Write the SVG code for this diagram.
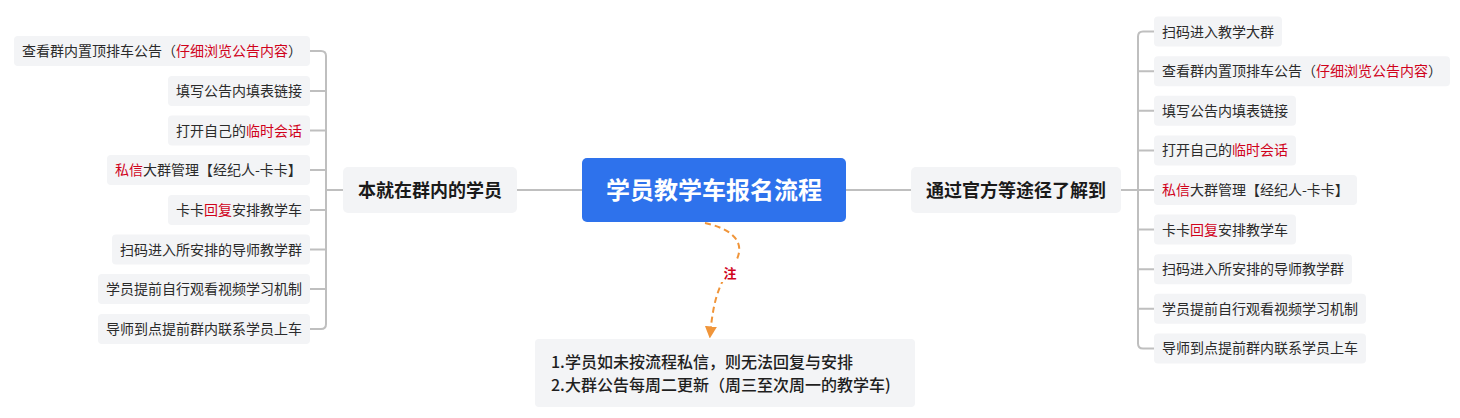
<svg xmlns="http://www.w3.org/2000/svg" width="1460" height="418" viewBox="0 0 1460 418">
<style>
text{font-family:"Noto Sans CJK SC","Noto Sans",sans-serif}
.leaf rect{fill:#f3f4f6}
.leaf text{font-size:14px;fill:#2b2b2b}
.r{fill:#d0021b}
.branch rect{fill:#f3f4f6}
.branch text{font-size:18px;font-weight:700;fill:#1a1a1a;text-anchor:middle}
.conn path{fill:none;stroke:#bfbfbf;stroke-width:2}
.note text{font-size:16px;font-weight:500;fill:#1f1f1f}
</style>
<defs>
<marker id="ah" viewBox="0 0 10 10" refX="8" refY="5" markerWidth="6" markerHeight="6" orient="auto" markerUnits="strokeWidth">
<path d="M0,0 L10,5 L0,10 z" fill="#f0953a"/>
</marker>
</defs>
<rect width="1460" height="418" fill="#ffffff"/>

<g id="connectors" class="conn">
<path d="M517,190 H582"/>
<path d="M846,190 H911"/>
<path d="M343,190 H326"/>
<path d="M310,51 H321 Q326,51 326,56 V324 Q326,329 321,329 H310"/>
<path d="M310,91 H326 M310,130.5 H326 M310,170 H326 M310,210 H326 M310,249.5 H326 M310,289 H326"/>
<path d="M1121,190 H1138"/>
<path d="M1154,31.6 H1143 Q1138,31.6 1138,36.6 V343.4 Q1138,348.4 1143,348.4 H1154"/>
<path d="M1138,71.2 H1154 M1138,110.8 H1154 M1138,150.4 H1154 M1138,190 H1154 M1138,229.6 H1154 M1138,269.2 H1154 M1138,308.8 H1154"/>
</g>

<g id="root">
<rect x="582" y="158" width="264" height="64" rx="5" fill="#2e72ec"/>
<text x="714" y="198.5" font-size="24" font-weight="700" fill="#ffffff" text-anchor="middle">学员教学车报名流程</text>
</g>

<g id="branch-left" class="branch">
<rect x="343" y="167" width="174" height="46" rx="5"/>
<text x="430" y="196.5">本就在群内的学员</text>
</g>
<g id="branch-right" class="branch">
<rect x="911" y="167" width="210" height="46" rx="5"/>
<text x="1016" y="196.5">通过官方等途径了解到</text>
</g>

<g id="L1" class="leaf"><rect x="14" y="36" width="296" height="30" rx="4"/><text x="22" y="56">查看群内置顶排车公告（<tspan class="r">仔细浏览公告内容</tspan>）</text></g>
<g id="L2" class="leaf"><rect x="168" y="76" width="142" height="30" rx="4"/><text x="176" y="96">填写公告内填表链接</text></g>
<g id="L3" class="leaf"><rect x="168" y="115.5" width="142" height="30" rx="4"/><text x="176" y="135.5">打开自己的<tspan class="r">临时会话</tspan></text></g>
<g id="L4" class="leaf"><rect x="107" y="155" width="203" height="30" rx="4"/><text x="115" y="175"><tspan class="r">私信</tspan>大群管理【经纪人-卡卡】</text></g>
<g id="L5" class="leaf"><rect x="168" y="195" width="142" height="30" rx="4"/><text x="176" y="215">卡卡<tspan class="r">回复</tspan>安排教学车</text></g>
<g id="L6" class="leaf"><rect x="112" y="234.5" width="198" height="30" rx="4"/><text x="120" y="254.5">扫码进入所安排的导师教学群</text></g>
<g id="L7" class="leaf"><rect x="98" y="274" width="212" height="30" rx="4"/><text x="106" y="294">学员提前自行观看视频学习机制</text></g>
<g id="L8" class="leaf"><rect x="98" y="314" width="212" height="30" rx="4"/><text x="106" y="334">导师到点提前群内联系学员上车</text></g>

<g id="R1" class="leaf"><rect x="1154" y="16.6" width="128" height="30" rx="4"/><text x="1162" y="36.6">扫码进入教学大群</text></g>
<g id="R2" class="leaf"><rect x="1154" y="56.2" width="296" height="30" rx="4"/><text x="1162" y="76.2">查看群内置顶排车公告（<tspan class="r">仔细浏览公告内容</tspan>）</text></g>
<g id="R3" class="leaf"><rect x="1154" y="95.8" width="142" height="30" rx="4"/><text x="1162" y="115.8">填写公告内填表链接</text></g>
<g id="R4" class="leaf"><rect x="1154" y="135.4" width="142" height="30" rx="4"/><text x="1162" y="155.4">打开自己的<tspan class="r">临时会话</tspan></text></g>
<g id="R5" class="leaf"><rect x="1154" y="175" width="203" height="30" rx="4"/><text x="1162" y="195"><tspan class="r">私信</tspan>大群管理【经纪人-卡卡】</text></g>
<g id="R6" class="leaf"><rect x="1154" y="214.6" width="142" height="30" rx="4"/><text x="1162" y="234.6">卡卡<tspan class="r">回复</tspan>安排教学车</text></g>
<g id="R7" class="leaf"><rect x="1154" y="254.2" width="198" height="30" rx="4"/><text x="1162" y="274.2">扫码进入所安排的导师教学群</text></g>
<g id="R8" class="leaf"><rect x="1154" y="293.8" width="212" height="30" rx="4"/><text x="1162" y="313.8">学员提前自行观看视频学习机制</text></g>
<g id="R9" class="leaf"><rect x="1154" y="333.4" width="212" height="30" rx="4"/><text x="1162" y="353.4">导师到点提前群内联系学员上车</text></g>

<g id="note-link">
<path d="M705,223 C745,232 745,252 730,270 S712,315 710,336" fill="none" stroke="#f0953a" stroke-width="2" stroke-dasharray="6,4" marker-end="url(#ah)"/>
<rect x="721" y="262" width="18" height="20" fill="#ffffff"/>
<text x="730" y="277.5" font-size="13" font-weight="700" fill="#d0021b" text-anchor="middle">注</text>
</g>

<g id="note" class="note">
<rect x="535" y="339" width="380" height="68" rx="4" fill="#f3f4f6"/>
<text x="551" y="368">1.学员如未按流程私信，则无法回复与安排</text>
<text x="551" y="391">2.大群公告每周二更新（周三至次周一的教学车)</text>
</g>
</svg>
